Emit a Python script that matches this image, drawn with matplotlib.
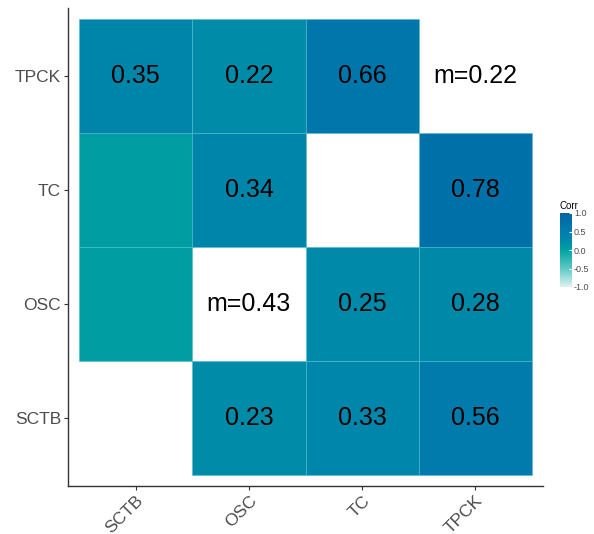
import numpy as np
import matplotlib
matplotlib.use("Agg")
import matplotlib.pyplot as plt
from matplotlib.colors import LinearSegmentedColormap, Normalize
from matplotlib.cm import ScalarMappable
from matplotlib.ticker import FormatStrFormatter

plt.rcParams['font.family'] = ['Liberation Sans', 'DejaVu Sans']

cats = ["SCTB", "OSC", "TC", "TPCK"]
# rows bottom->top (SCTB, OSC, TC, TPCK), columns left->right; nan = empty cell
corr = np.array([
    [np.nan, 0.23, 0.33, 0.56],
    [0.05, np.nan, 0.25, 0.28],
    [0.05, 0.34, np.nan, 0.78],
    [0.35, 0.22, 0.66, np.nan],
])
labels = [
    ["", "0.23", "0.33", "0.56"],
    ["", "m=0.43", "0.25", "0.28"],
    ["", "0.34", "", "0.78"],
    ["0.35", "0.22", "0.66", "m=0.22"],
]

cmap = LinearSegmentedColormap.from_list(
    "corr", [(0.0, "#dff3f1"), (0.25, "#5cc9c4"), (0.5, "#00a2a2"),
             (0.62, "#008aa8"), (0.75, "#007ead"), (1.0, "#0066a4")])
norm = Normalize(-1, 1)

fig = plt.figure(figsize=(5.94, 5.34), dpi=100)
ax = fig.add_axes([68/594, 48/534, 475/594, 478/534])

for i in range(len(cats)):
    for j in range(len(cats)):
        if not np.isnan(corr[i, j]):
            ax.bar(j + 1, 1, bottom=i + 0.5, width=1,
                   color=cmap(norm(corr[i, j])), edgecolor="#4fbccd",
                   linewidth=0.4)
        if labels[i][j]:
            ax.text(j + 1, i + 1, labels[i][j], ha="center", va="center",
                    fontsize=18, color="black")

ax.set_xlim(0.4, 4.6)
ax.set_ylim(0.4, 4.6)
ax.set_xticks(range(1, 5))
ax.set_yticks(range(1, 5))
ax.set_xticklabels(cats, rotation=45, ha="right", va="top",
                   rotation_mode="anchor")
ax.set_yticklabels(cats)
ax.tick_params(colors="#333333", labelcolor="#4d4d4d", labelsize=12.5,
               length=3, width=0.8, pad=2)
for s in ["top", "right"]:
    ax.spines[s].set_visible(False)
for s in ["left", "bottom"]:
    ax.spines[s].set_color("#333333")
    ax.spines[s].set_linewidth(1.0)

sm = ScalarMappable(norm=norm, cmap=cmap)
cax = fig.add_axes([560/594, (534-287)/534, 12/594, 74/534])
cb = fig.colorbar(sm, cax=cax, ticks=[-1, -0.5, 0, 0.5, 1])
cb.outline.set_visible(False)
cb.ax.tick_params(labelsize=6.5, labelcolor="#4d4d4d", color="white",
                  length=2.5, direction="in", pad=1.5)
cb.ax.yaxis.set_major_formatter(FormatStrFormatter("%.1f"))
cb.ax.set_title("Corr", fontsize=7, loc="left", pad=3)

fig.savefig("out.png", dpi=100)
